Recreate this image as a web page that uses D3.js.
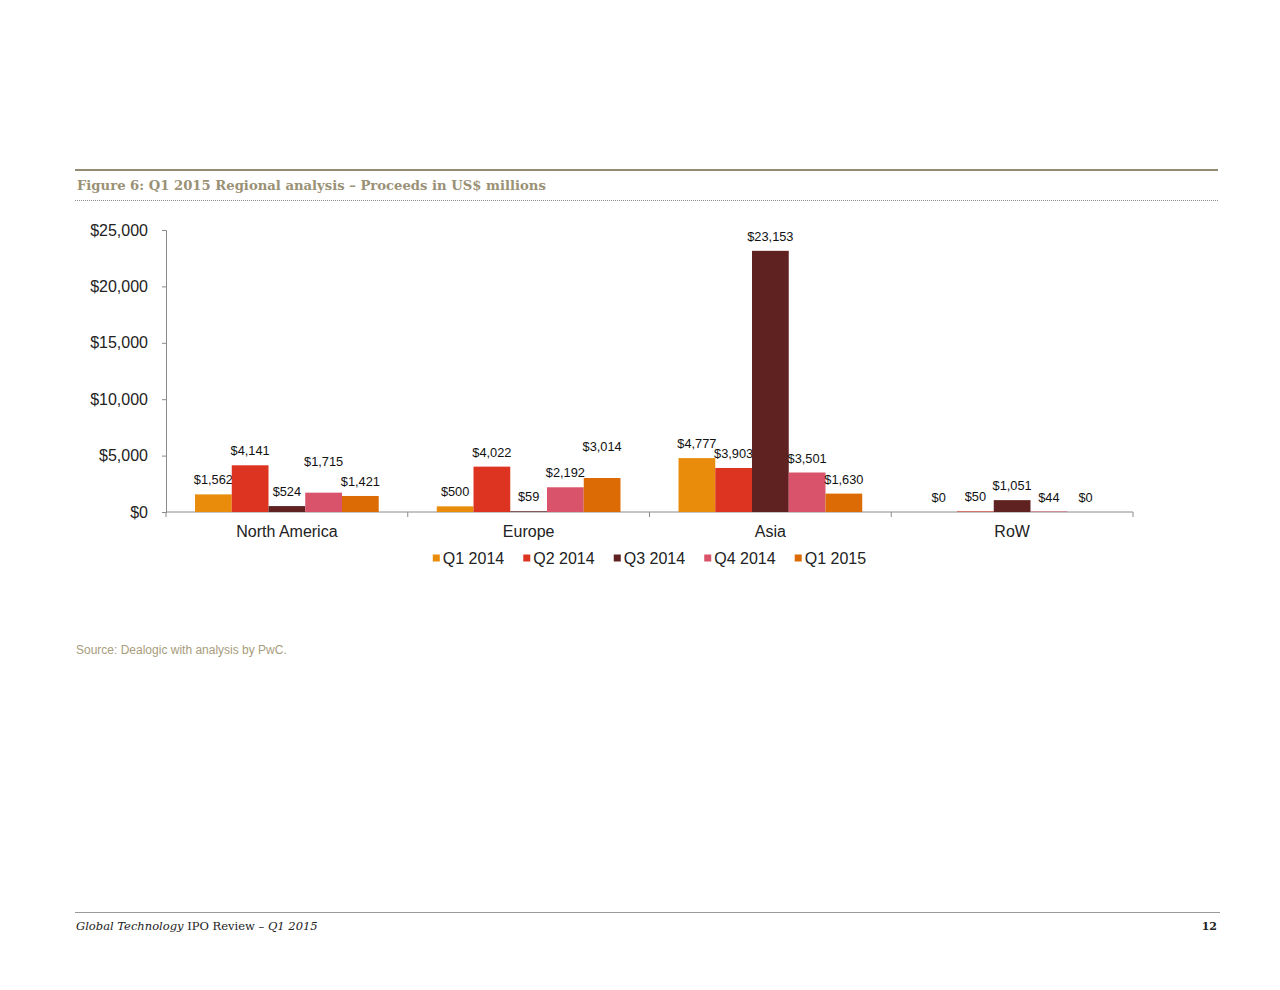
<!DOCTYPE html>
<html>
<head>
<meta charset="utf-8">
<script src="https://cdn.jsdelivr.net/npm/d3@7"></script>
<style>
  body { margin: 0; background: #fff; }
  svg text { font-family: "Liberation Sans", Arial, sans-serif; }
</style>
</head>
<body>
<div id="chart"></div>
<script>
// data (US$ millions)
const regions = ['North America', 'Europe', 'Asia', 'RoW'];
const seriesNames = ['Q1 2014', 'Q2 2014', 'Q3 2014', 'Q4 2014', 'Q1 2015'];
const q1_2014 = [1562, 500, 4777, 0];
const q2_2014 = [4141, 4022, 3903, 50];
const q3_2014 = [524, 59, 23153, 1051];
const q4_2014 = [1715, 2192, 3501, 44];
const q1_2015 = [1421, 3014, 1630, 0];
const yTicks = [0, 5000, 10000, 15000, 20000, 25000];

const seriesValues = [q1_2014, q2_2014, q3_2014, q4_2014, q1_2015];
const colors = ['#e98c0b', '#dd3421', '#602121', '#d9546b', '#dc6b06'];

// labels Excel pushed up to avoid overlapping neighbours
const liftedLabels = ['North America|Q4 2014', 'Europe|Q1 2015'];

const W = 1280, H = 990;
const margin = { left: 166, right: 147, top: 230, bottom: 478 };
const plotW = W - margin.left - margin.right;
const plotH = H - margin.top - margin.bottom;

const fmt = d3.format(',');

const svg = d3.select('#chart').append('svg')
  .attr('width', W)
  .attr('height', H);

// header rules + title
svg.append('line')
  .attr('x1', 75).attr('x2', 1218).attr('y1', 170).attr('y2', 170)
  .attr('stroke', '#948c72').attr('stroke-width', 2);
svg.append('text')
  .attr('x', 77).attr('y', 190)
  .style('font-family', '"DejaVu Serif", Georgia, serif')
  .style('font-weight', 'bold')
  .style('font-size', '13.2px')
  .attr('fill', '#9a9176')
  .text('Figure 6: Q1 2015 Regional analysis \u2013 Proceeds in US$ millions');
svg.append('line')
  .attr('x1', 75).attr('x2', 1218).attr('y1', 200.5).attr('y2', 200.5)
  .attr('stroke', '#8c8c8c').attr('stroke-width', 1)
  .attr('stroke-dasharray', '1,1');

const g = svg.append('g')
  .attr('transform', `translate(${margin.left},${margin.top})`);

const y = d3.scaleLinear().domain([0, 25000]).range([plotH, 0]);
const x0 = d3.scaleBand().domain(regions).range([0, plotW]).padding(0);
const gap = x0.bandwidth() * 0.12;
const x1 = d3.scaleBand().domain(seriesNames)
  .range([gap, x0.bandwidth() - gap]).padding(0);

// y axis
const yAxis = g.append('g')
  .call(d3.axisLeft(y).tickValues(yTicks).tickSize(4).tickPadding(14)
    .tickFormat(d => '$' + fmt(d)));
yAxis.selectAll('path, line').attr('stroke', '#8a8a8a');
yAxis.selectAll('text')
  .style('font-size', '16px').attr('fill', '#222');

// x axis with ticks between categories
const xAxis = g.append('g').attr('transform', `translate(0,${plotH})`);
xAxis.append('line')
  .attr('x1', 0).attr('x2', plotW)
  .attr('stroke', '#8a8a8a');
xAxis.selectAll('.tick')
  .data(regions.concat(['end']))
  .enter().append('line')
  .attr('x1', (d, i) => i < regions.length ? x0(d) : plotW)
  .attr('x2', (d, i) => i < regions.length ? x0(d) : plotW)
  .attr('y1', 0).attr('y2', 5)
  .attr('stroke', '#8a8a8a');
xAxis.selectAll('.cat')
  .data(regions)
  .enter().append('text')
  .attr('x', d => x0(d) + x0.bandwidth() / 2)
  .attr('y', 25)
  .attr('text-anchor', 'middle')
  .style('font-size', '16px')
  .attr('fill', '#222')
  .text(d => d);

// bars
const rows = [];
regions.forEach((r, ri) => {
  seriesNames.forEach((s, si) => {
    rows.push({ region: r, series: s, value: seriesValues[si][ri], color: colors[si] });
  });
});

const groups = g.selectAll('.g-bar')
  .data(rows)
  .enter().append('g')
  .attr('class', 'g-bar')
  .attr('transform', d => `translate(${x0(d.region)},0)`);

groups.append('rect')
  .attr('x', d => x1(d.series))
  .attr('y', d => y(d.value))
  .attr('width', x1.bandwidth())
  .attr('height', d => plotH - y(d.value))
  .attr('fill', d => d.color);

groups.append('text')
  .attr('x', d => x1(d.series) + x1.bandwidth() / 2)
  .attr('y', d => y(d.value) - 10 - (liftedLabels.includes(d.region + '|' + d.series) ? 17 : 0))
  .attr('text-anchor', 'middle')
  .style('font-size', '12.8px')
  .attr('fill', '#111')
  .text(d => '$' + fmt(d.value));

// legend
const legend = svg.append('g');
const items = legend.selectAll('.leg')
  .data(seriesNames)
  .enter().append('g');
items.append('rect')
  .attr('width', 7).attr('height', 7)
  .attr('y', -9.5)
  .attr('fill', (d, i) => colors[i]);
items.append('text')
  .attr('x', 10).attr('y', 0)
  .style('font-size', '16px')
  .attr('fill', '#222')
  .text(d => d);
let lx = 0;
items.each(function() {
  d3.select(this).attr('transform', `translate(${lx},0)`);
  lx += this.getBBox().width + 19;
});
lx -= 19;
legend.attr('transform', `translate(${margin.left + plotW / 2 - lx / 2},${564})`);

// source
svg.append('text')
  .attr('x', 76).attr('y', 654)
  .style('font-size', '12px')
  .attr('fill', '#a79c7c')
  .text('Source: Dealogic with analysis by PwC.');

// footer
svg.append('line')
  .attr('x1', 75).attr('x2', 1220).attr('y1', 912.5).attr('y2', 912.5)
  .attr('stroke', '#9a9a9a').attr('stroke-width', 1);
const foot = svg.append('text')
  .attr('x', 76).attr('y', 930)
  .style('font-family', '"DejaVu Serif", Georgia, serif')
  .style('font-size', '11.5px')
  .attr('fill', '#222');
foot.append('tspan').style('font-style', 'italic').text('Global Technology ');
foot.append('tspan').text('IPO Review \u2013 ');
foot.append('tspan').style('font-style', 'italic').text('Q1 2015');
svg.append('text')
  .attr('x', 1217).attr('y', 930)
  .attr('text-anchor', 'end')
  .style('font-family', '"DejaVu Serif", Georgia, serif')
  .style('font-weight', 'bold')
  .style('font-size', '11px')
  .attr('fill', '#222')
  .text('12');
</script>
</body>
</html>
